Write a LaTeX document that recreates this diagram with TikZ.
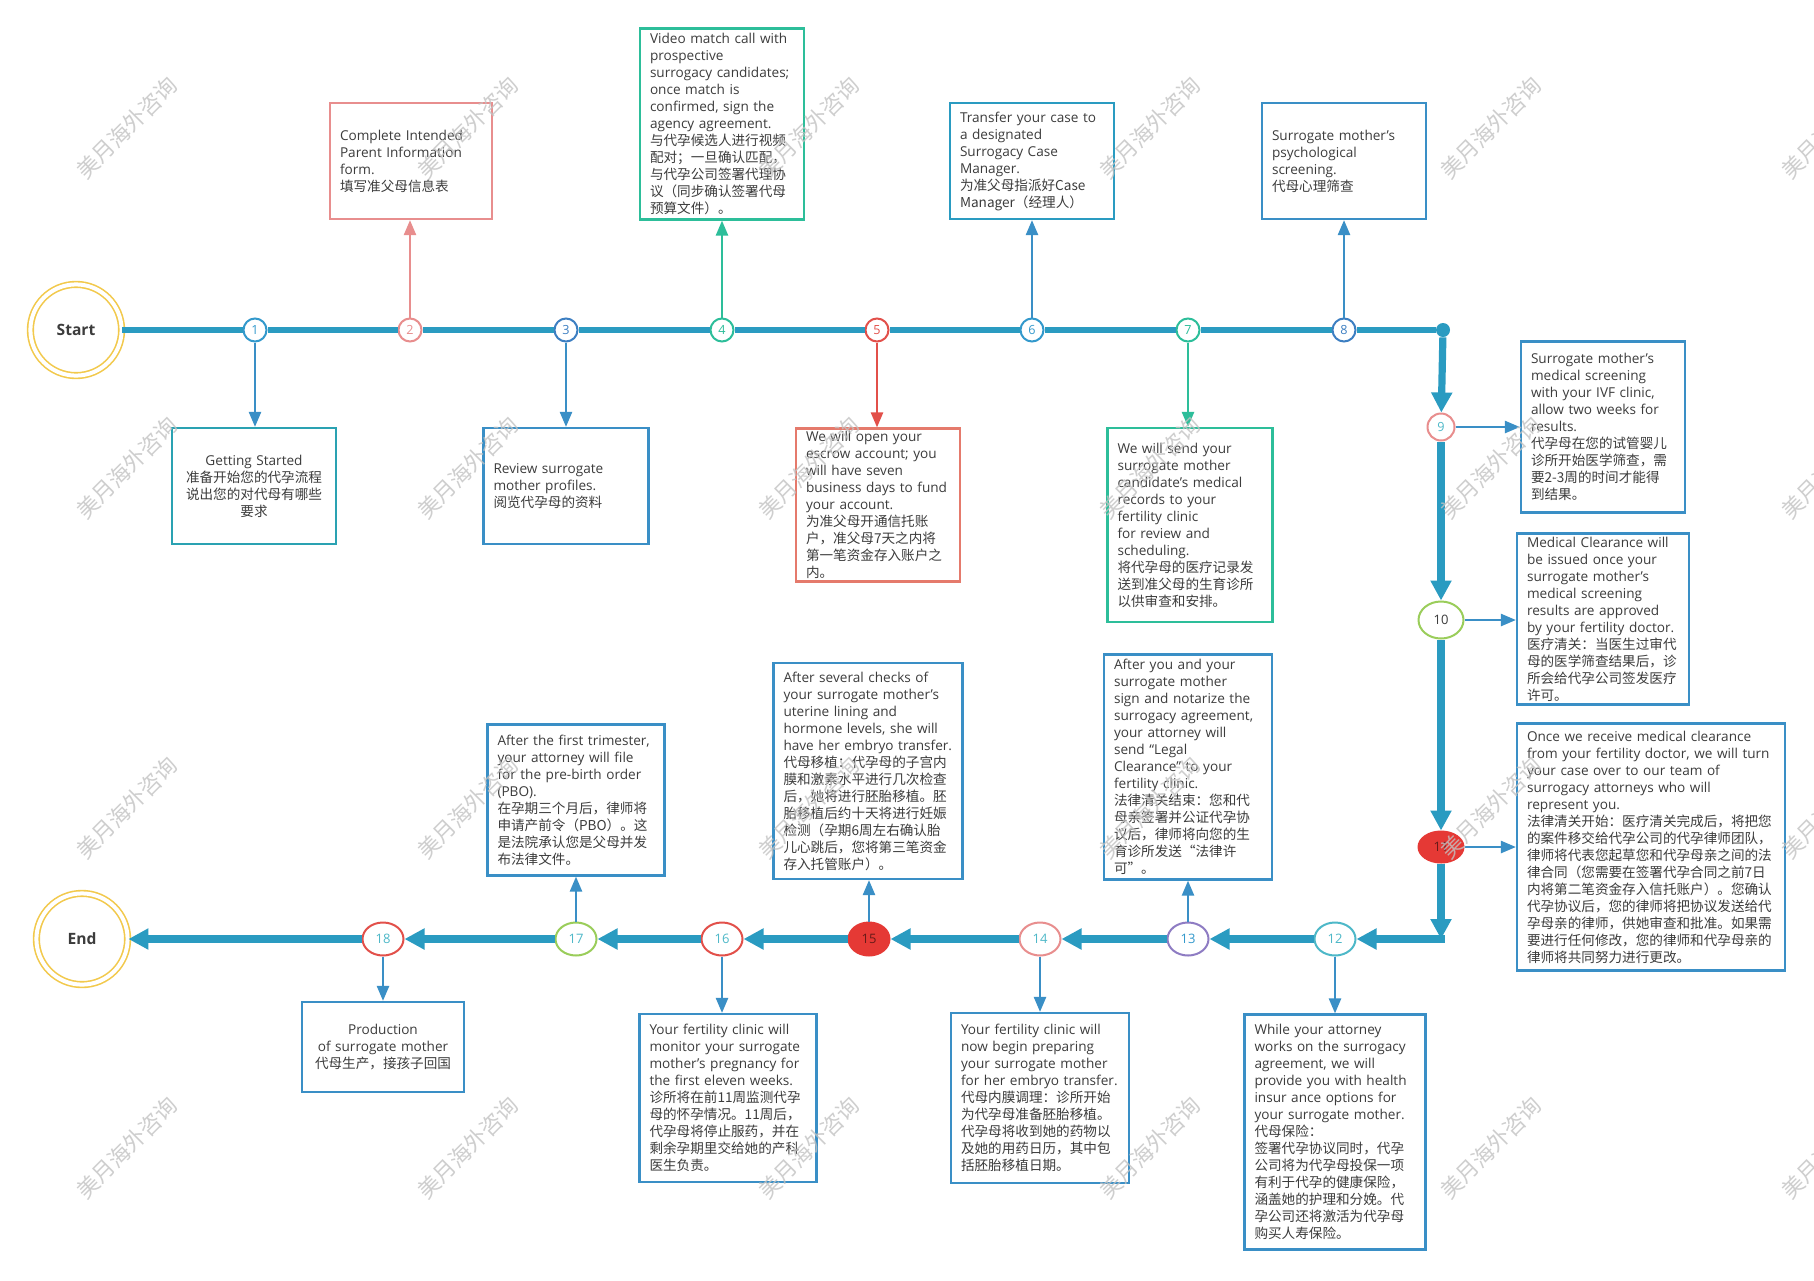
\documentclass[tikz,border=0pt]{standalone}
\usepackage{fontspec}
\setmainfont{Open Sans}
\newfontfamily\cjk{Noto Sans CJK SC}
\usetikzlibrary{arrows.meta,shapes.geometric}
\definecolor{Flow}{HTML}{2A9BC1}
\definecolor{Teal}{HTML}{2AA2B2}
\definecolor{Sky}{HTML}{3A8FC6}
\definecolor{Blue}{HTML}{3D7FC2}
\definecolor{Cyan}{HTML}{3399CC}
\definecolor{Pink}{HTML}{E88E8E}
\definecolor{Salmon}{HTML}{E57A6C}
\definecolor{Coral}{HTML}{E2504A}
\definecolor{Mint}{HTML}{2DBE9A}
\definecolor{Lime}{HTML}{9ACD5A}
\definecolor{Lilac}{HTML}{8E7CC3}
\definecolor{Aqua}{HTML}{4DB8C8}
\definecolor{Ruby}{HTML}{E53935}
\definecolor{Gold}{HTML}{F2C94C}
\definecolor{Ink}{HTML}{3C3C3C}
\definecolor{Mark}{HTML}{C2C2C2}

\begin{document}
\begin{tikzpicture}[x=0.5pt,y=-0.5pt,
  card/.style={draw=#1, line width=1.1pt, fill=white, text=Ink, align=left,
    inner xsep=5pt, inner ysep=1pt, font=\fontsize{6.8}{8.5}\selectfont},
  knot/.style={circle, draw=#1, text=#1, fill=white, line width=1pt,
    minimum size=11.5pt, inner sep=0pt, font=\fontsize{6.3}{7}\selectfont},
  oval/.style={ellipse, line width=1pt, minimum width=20.5pt,
    minimum height=16.5pt, inner sep=0pt, font=\fontsize{6.5}{7}\selectfont},
  ring/.style={circle, draw=Gold, double=white, double distance=2pt,
    line width=0.8pt, minimum size=45.6pt, text=Ink,
    font=\bfseries\fontsize{7.8}{9}\selectfont},
  tie/.style={draw=#1, line width=1.2pt, -{Triangle[length=7.5pt,width=6pt]}},
  rail/.style={draw=Flow, line width=2.8pt},
  flowline/.style={draw=Flow, line width=3.6pt, -{Triangle[length=10pt,width=10pt]}},
  stamp/.style={font=\cjk\fontsize{11}{11}\selectfont, text=Mark, opacity=0.8, rotate=45}]
  \fill[white] (0,0) rectangle (1814,1280);
  \useasboundingbox (0,0) rectangle (1814,1280);

  % start, end and the steps on the line
  \node[ring] (start) at (76,330) {Start};
  \node[ring] (end) at (82,939) {End};
  \foreach \i/\x/\c in {1/255/Cyan,2/410/Pink,3/566/Blue,4/722/Mint,
                        5/877/Coral,6/1032/Cyan,7/1188/Mint,8/1344/Blue}
    \node[knot=\c] (n\i) at (\x,330) {\i};
  \node[circle, fill=Flow, minimum size=7pt, inner sep=0pt] (turn) at (1443,330) {};
  \node[knot=Pink, text=Aqua, minimum size=13.5pt] (n9) at (1441,427) {9};
  \node[oval, draw=Lime, fill=white, text=Ink, minimum width=22.5pt,
    minimum height=18.5pt] (n10) at (1441,620) {10};
  \node[oval, draw=Ruby, fill=Ruby, text=Ruby!45!black, minimum width=22.5pt,
    minimum height=15.5pt] (n11) at (1441,847) {11};
  \coordinate (bend) at (1441,939);
  \foreach \i/\x/\d/\f/\t in {12/1335/Aqua/white/Aqua,13/1188/Lilac/white/Cyan,
      14/1040/Pink/white/Aqua,15/869/Ruby/Ruby/Ruby!45!black,16/722/Coral/white/Aqua,
      17/576/Lime/white/Aqua,18/383/Coral/white/Aqua}
    \node[oval, draw=\d, fill=\f, text=\t] (n\i) at (\x,939) {\i};

  % boxes
  \node[card=Teal, align=center, text width=72pt, minimum height=58pt] (b1) at (254,486)
    {Getting Started\\ \cjk 准备开始您的代孕流程\\说出您的对代母有哪些\\要求};
  \node[card=Pink, text width=71pt, minimum height=58pt] (b2) at (411,161)
    {Complete Intended\\Parent Information\\form.\\ \cjk 填写准父母信息表};
  \node[card=Sky, text width=72.5pt, minimum height=58pt] (b3) at (566,486)
    {Review surrogate\\mother profiles.\\ \cjk 阅览代孕母的资料};
  \node[card=Mint, text width=72pt, minimum height=95.5pt] (b4) at (722,124)
    {Video match call with\\prospective\\surrogacy candidates;\\once match is\\
     confirmed, sign the\\agency agreement.\\ \cjk 与代孕候选人进行视频\\
     配对；一旦确认匹配，\\与代孕公司签署代理协\\议（同步确认签署代母\\预算文件）。};
  \node[card=Salmon, text width=72pt, minimum height=76.5pt] (b5) at (878,505)
    {We will open your\\escrow account; you\\will have seven\\business days to fund\\
     your account.\\ \cjk 为准父母开通信托账\\户，准父母7天之内将\\第一笔资金存入账户之\\内。};
  \node[card=Flow, text width=72pt, minimum height=58pt] (b6) at (1032,161)
    {Transfer your case to\\a designated\\Surrogacy Case\\Manager.\\
     \cjk 为准父母指派好Case\\Manager（经理人）};
  \node[card=Mint, text width=72.5pt, minimum height=97pt] (b7) at (1190,525)
    {We will send your\\surrogate mother\\candidate's medical\\records to your\\
     fertility clinic\\for review and\\scheduling.\\
     \cjk 将代孕母的医疗记录发\\送到准父母的生育诊所\\以供审查和安排。};
  \node[card=Sky, text width=72pt, minimum height=58pt] (b8) at (1344,161)
    {Surrogate mother's\\psychological\\screening.\\ \cjk 代母心理筛查};
  \node[card=Sky, text width=72pt, minimum height=85.5pt] (b9) at (1603,427)
    {Surrogate mother's\\medical screening\\with your IVF clinic,\\allow two weeks for\\
     results.\\ \cjk 代孕母在您的试管婴儿\\诊所开始医学筛查，需\\要2-3周的时间才能得\\到结果。};
  \node[card=Sky, text width=76pt, minimum height=85.5pt] (b10) at (1603,619)
    {Medical Clearance will\\be issued once your\\surrogate mother's\\medical screening\\
     results are approved\\by your fertility doctor.\\
     \cjk 医疗清关：当医生过审代\\母的医学筛查结果后，诊\\所会给代孕公司签发医疗\\许可。};
  \node[card=Sky, text width=124pt, minimum height=123.5pt] (b11) at (1651,847)
    {Once we receive medical clearance\\from your fertility doctor, we will turn\\
     your case over to our team of\\surrogacy attorneys who will\\represent you.\\
     \cjk 法律清关开始：医疗清关完成后，将把您\\的案件移交给代孕公司的代孕律师团队，\\
     律师将代表您起草您和代孕母亲之间的法\\律合同（您需要在签署代孕合同之前7日\\
     内将第二笔资金存入信托账户）。您确认\\代孕协议后，您的律师将把协议发送给代\\
     孕母亲的律师，供她审查和批准。如果需\\要进行任何修改，您的律师和代孕母亲的\\
     律师将共同努力进行更改。};
  \node[card=Sky, text width=80.5pt, minimum height=117.5pt] (b12) at (1335,1132)
    {While your attorney\\works on the surrogacy\\agreement, we will\\provide you with health\\
     insur ance options for\\your surrogate mother.\\ \cjk 代母保险：\\
     签署代孕协议同时，代孕\\公司将为代孕母投保一项\\有利于代孕的健康保险，\\
     涵盖她的护理和分娩。代\\孕公司还将激活为代孕母\\购买人寿保险。};
  \node[card=Sky, text width=74pt, minimum height=112.5pt] (b13) at (1188,767)
    {After you and your\\surrogate mother\\sign and notarize the\\surrogacy agreement,\\
     your attorney will\\send “Legal\\Clearance” to your\\fertility clinic.\\
     \cjk 法律清关结束：您和代\\母亲签署并公证代孕协\\议后，律师将向您的生\\育诊所发送“法律许\\可”。};
  \node[card=Sky, text width=79pt, minimum height=85pt] (b14) at (1040,1098)
    {Your fertility clinic will\\now begin preparing\\your surrogate mother\\
     for her embryo transfer.\\ \cjk 代母内膜调理：诊所开始\\为代孕母准备胚胎移植。\\
     代孕母将收到她的药物以\\及她的用药日历，其中包\\括胚胎移植日期。};
  \node[card=Sky, text width=84.5pt, minimum height=108pt] (b15) at (868,771)
    {After several checks of\\your surrogate mother's\\uterine lining and\\
     hormone levels, she will\\have her embryo transfer.\\
     \cjk 代母移植：代孕母的子宫内\\膜和激素水平进行几次检查\\后，她将进行胚胎移植。胚\\
     胎移植后约十天将进行妊娠\\检测（孕期6周左右确认胎\\儿心跳后，您将第三笔资金\\存入托管账户）。};
  \node[card=Sky, text width=78.5pt, minimum height=84pt] (b16) at (728,1098)
    {Your fertility clinic will\\monitor your surrogate\\mother's pregnancy for\\
     the first eleven weeks.\\ \cjk 诊所将在前11周监测代孕\\母的怀孕情况。11周后，\\
     代孕母将停止服药，并在\\剩余孕期里交给她的产科\\医生负责。};
  \node[card=Sky, text width=78.5pt, minimum height=75.5pt] (b17) at (576,800)
    {After the first trimester,\\your attorney will file\\for the pre-birth order\\(PBO).\\
     \cjk 在孕期三个月后，律师将\\申请产前令（PBO）。这\\是法院承认您是父母并发\\布法律文件。};
  \node[card=Sky, align=center, text width=71pt, minimum height=45pt] (b18) at (383,1047)
    {Production\\of surrogate mother\\ \cjk 代母生产，接孩子回国};

  % the main line
  \draw[rail] (start) -- (n1) -- (n2) -- (n3) -- (n4) -- (n5) -- (n6) -- (n7) -- (n8) -- (turn);
  \foreach \a/\b in {turn/n9,n9/n10,n10/n11,n11/bend,n12/n13,n13/n14,
                     n14/n15,n15/n16,n16/n17,n17/n18,n18/end}
    \draw[flowline] (\a) -- (\b);
  \draw[flowline, shorten <=-1.8pt] (bend) -- (n12);

  % from the steps to their boxes
  \foreach \i/\c in {1/Sky,3/Sky,5/Coral,7/Mint,12/Sky,14/Sky,16/Sky,18/Sky}
    \draw[tie=\c] (n\i) -- (n\i |- b\i.north);
  \foreach \i/\c in {2/Pink,4/Mint,6/Sky,8/Sky,13/Sky,15/Sky,17/Sky}
    \draw[tie=\c] (n\i) -- (n\i |- b\i.south);
  \foreach \i in {9,10,11}
    \draw[tie=Sky] (n\i) -- (n\i -| b\i.west);

  % watermark
  \foreach \x in {127,468,809,1150,1491,1832}
    \foreach \y in {128,468,808,1148}
      \node[stamp] (w\x-\y) at (\x,\y) {美月海外咨询};
\end{tikzpicture}
\end{document}
